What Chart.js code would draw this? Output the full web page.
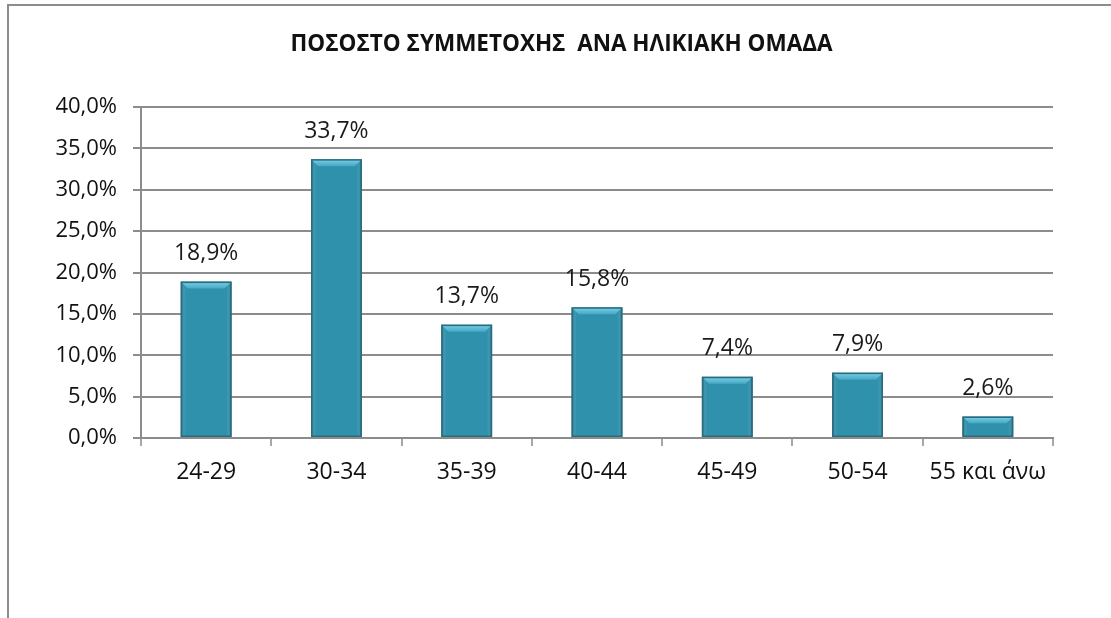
<!DOCTYPE html>
<html>
<head>
<meta charset="utf-8">
<script src="https://cdn.jsdelivr.net/npm/chart.js@4.4.1/dist/chart.umd.min.js"></script>
<style>
  html, body { margin: 0; padding: 0; background: #fff; }
  #wrap { position: relative; width: 1111px; height: 618px; overflow: hidden; }
  #frameTop { position: absolute; left: 8px; top: 4px; width: 1103px; height: 2px; background: #8c8c8c; }
  #frameLeft { position: absolute; left: 7px; top: 4px; width: 2px; height: 614px; background: #8c8c8c; }
  canvas { position: absolute; left: 0; top: 0; }
</style>
</head>
<body>
<div id="wrap">
  <canvas id="chart" width="1111" height="618"></canvas>
  <div id="frameTop"></div>
  <div id="frameLeft"></div>
</div>
<script>
// chart data
var ageGroups = ["24-29", "30-34", "35-39", "40-44", "45-49", "50-54", "55 και άνω"];
var shares = [18.9, 33.7, 13.7, 15.8, 7.4, 7.9, 2.6];
var yTicks = [0, 5, 10, 15, 20, 25, 30, 35, 40];
var chartTitle = "ΠΟΣΟΣΤΟ ΣΥΜΜΕΤΟΧΗΣ  ΑΝΑ ΗΛΙΚΙΑΚΗ ΟΜΑΔΑ";

var fontFamily = "'Open Sans', 'DejaVu Sans', sans-serif";

function pct(v) {
    return v.toFixed(1).replace(".", ",") + "%";
}

// title in the original sits a bit right of the canvas centre
var titleShift = {
    id: "titleShift",
    afterLayout: function(chart) {
        var t = chart.titleBlock;
        if (t) {
            t.left = 70;
            t.width = t.right - t.left;
        }
    }
};

// bevel + shading on the bars, drawn from the bar elements
var barShade = {
    id: "barShade",
    afterDatasetsDraw: function(chart) {
        var ctx = chart.ctx;
        var meta = chart.getDatasetMeta(0);
        meta.data.forEach(function(bar) {
            var p = bar.getProps(["x", "y", "width", "base"], true);
            var l = p.x - p.width / 2, r = p.x + p.width / 2;
            var t = p.y, b = p.base;
            var bev = Math.min(7, (b - t) / 3);
            ctx.save();
            var g = ctx.createLinearGradient(l, 0, r, 0);
            g.addColorStop(0, "rgba(10,60,80,0.35)");
            g.addColorStop(0.1, "rgba(255,255,255,0)");
            g.addColorStop(0.9, "rgba(255,255,255,0)");
            g.addColorStop(1, "rgba(10,60,80,0.35)");
            ctx.fillStyle = g;
            ctx.fillRect(l, t, r - l, b - t);
            // top bevel
            var tg = ctx.createLinearGradient(0, t, 0, t + bev);
            tg.addColorStop(0, "#7fd0e6");
            tg.addColorStop(1, "#45a9c5");
            ctx.fillStyle = tg;
            ctx.beginPath();
            ctx.moveTo(l, t);
            ctx.lineTo(r, t);
            ctx.lineTo(r - bev, t + bev);
            ctx.lineTo(l + bev, t + bev);
            ctx.closePath();
            ctx.fill();
            ctx.strokeStyle = "#2a6b7c";
            ctx.lineWidth = 1.5;
            ctx.strokeRect(l + 0.75, t + 0.75, r - l - 1.5, b - t - 1.5);
            ctx.restore();
        });
    }
};

// value labels above the bars
var barLabels = {
    id: "barLabels",
    afterDatasetsDraw: function(chart) {
        var ctx = chart.ctx;
        var meta = chart.getDatasetMeta(0);
        ctx.save();
        ctx.font = "23px " + fontFamily;
        ctx.fillStyle = "#1a1a1a";
        ctx.textAlign = "center";
        ctx.textBaseline = "middle";
        meta.data.forEach(function(bar, i) {
            ctx.fillText(pct(shares[i]), bar.x, bar.y - 28);
        });
        ctx.restore();
    }
};

var ctx = document.getElementById("chart").getContext("2d");
var chart = new Chart(ctx, {
    type: "bar",
    data: {
        labels: ageGroups,
        datasets: [{
            data: shares,
            backgroundColor: "#2f91ac",
            borderWidth: 0,
            categoryPercentage: 1.0,
            barPercentage: 0.39
        }]
    },
    options: {
        responsive: false,
        animation: false,
        layout: { padding: { left: 0, right: 58, top: 0, bottom: 0 } },
        plugins: {
            legend: { display: false },
            tooltip: { enabled: false },
            title: {
                display: true,
                text: chartTitle,
                color: "#111",
                font: { family: fontFamily, size: 22.5, weight: "bold", lineHeight: 1.2 },
                padding: { top: 31, bottom: 49 }
            }
        },
        scales: {
            x: {
                grid: { display: true, drawOnChartArea: false, drawTicks: true, tickLength: 8, color: "#a8a8a8", lineWidth: 2 },
                border: { display: true, color: "#8c8c8c", width: 2 },
                ticks: { color: "#111", font: { family: fontFamily, size: 23 }, padding: 13 },
                afterFit: function(scale) { scale.height = 180; }
            },
            y: {
                min: 0,
                max: 40,
                afterBuildTicks: function(scale) {
                    scale.ticks = yTicks.map(function(v) { return { value: v }; });
                },
                grid: { color: "#8c8c8c", lineWidth: 2, tickLength: 8 },
                border: { display: true, color: "#8c8c8c", width: 2 },
                ticks: {
                    color: "#111",
                    font: { family: fontFamily, size: 22 },
                    padding: 16,
                    callback: function(v) { return pct(v); }
                },
                afterFit: function(scale) { scale.width = 141; }
            }
        }
    },
    plugins: [titleShift, barShade, barLabels]
});
</script>
</body>
</html>
